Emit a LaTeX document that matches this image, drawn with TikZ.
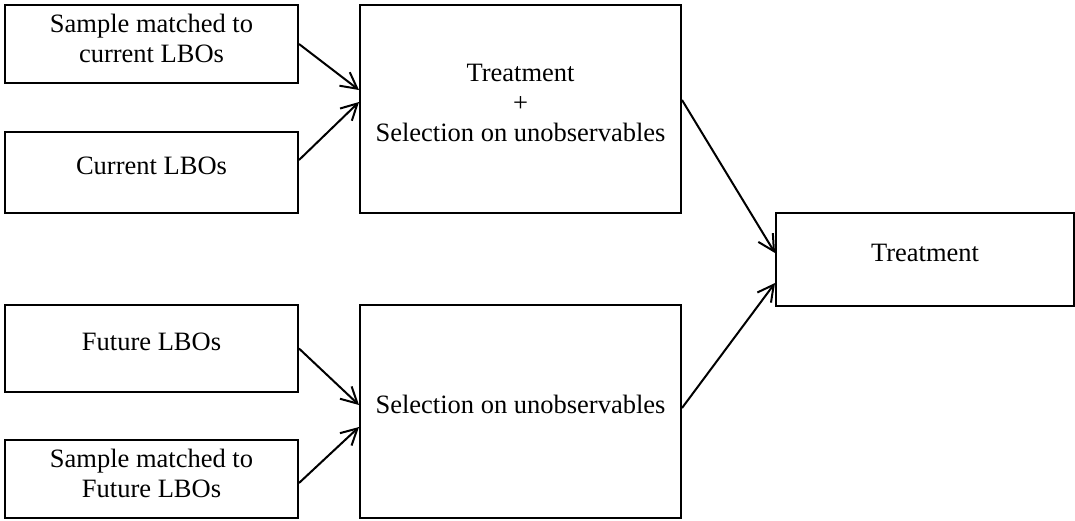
\documentclass[tikz,border=0pt]{standalone}
\usepackage{fontspec}
\setmainfont{Liberation Serif}
\usetikzlibrary{arrows.meta,positioning}
\tikzset{
  groupbox/.style={draw, line width=2pt, inner sep=0pt, align=center,
    font=\fontsize{26.5}{30}\selectfont},
  oneline/.style={text height=18pt, text depth=15pt},
  twoline/.style={text depth=12pt},
  sidebox/.style={groupbox, minimum width=293pt},
  mainbox/.style={groupbox, minimum width=321pt},
  link/.style={-{Straight Barb[length=16pt,width=17pt]}, line width=2pt},
}
\begin{document}
\begin{tikzpicture}[x=1pt, y=-1pt]
\useasboundingbox (0,0) rectangle (1075,520);

% Current LBOs.
\node[sidebox, twoline, minimum height=78pt] (smc) at (151.5,44) {Sample matched to\\current LBOs};
\node[sidebox, oneline, minimum height=81pt] (cur) at (151.5,172.5) {Current LBOs};
\node[mainbox, twoline, minimum height=208pt] (mid1) at (520.5,109) {Treatment\\+\\Selection on unobservables};

% Future LBOs.
\node[sidebox, oneline, minimum height=87pt] (fut) at (151.5,348.5) {Future LBOs};
\node[sidebox, twoline, minimum height=78pt] (smf) at (151.5,479) {Sample matched to\\Future LBOs};
\node[mainbox, oneline, minimum height=213pt] (mid2) at (520.5,411.5) {Selection on unobservables};

\node[groupbox, oneline, minimum width=298pt, minimum height=93pt] (treat) at (925,259.5) {Treatment};

\draw[link] (smc.east) -- ([yshift=19pt]mid1.west);
\draw[link] ([yshift=12.5pt]cur.east) -- ([yshift=7pt]mid1.west);
\draw[link] (fut.east) -- ([yshift=6.5pt]mid2.west);
\draw[link] ([yshift=-4pt]smf.east) -- ([yshift=-15.5pt]mid2.west);
\draw[link] ([yshift=9pt]mid1.east) -- ([yshift=6.5pt]treat.west);
\draw[link] ([yshift=3.5pt]mid2.east) -- ([yshift=-23.5pt]treat.west);

\end{tikzpicture}
\end{document}
